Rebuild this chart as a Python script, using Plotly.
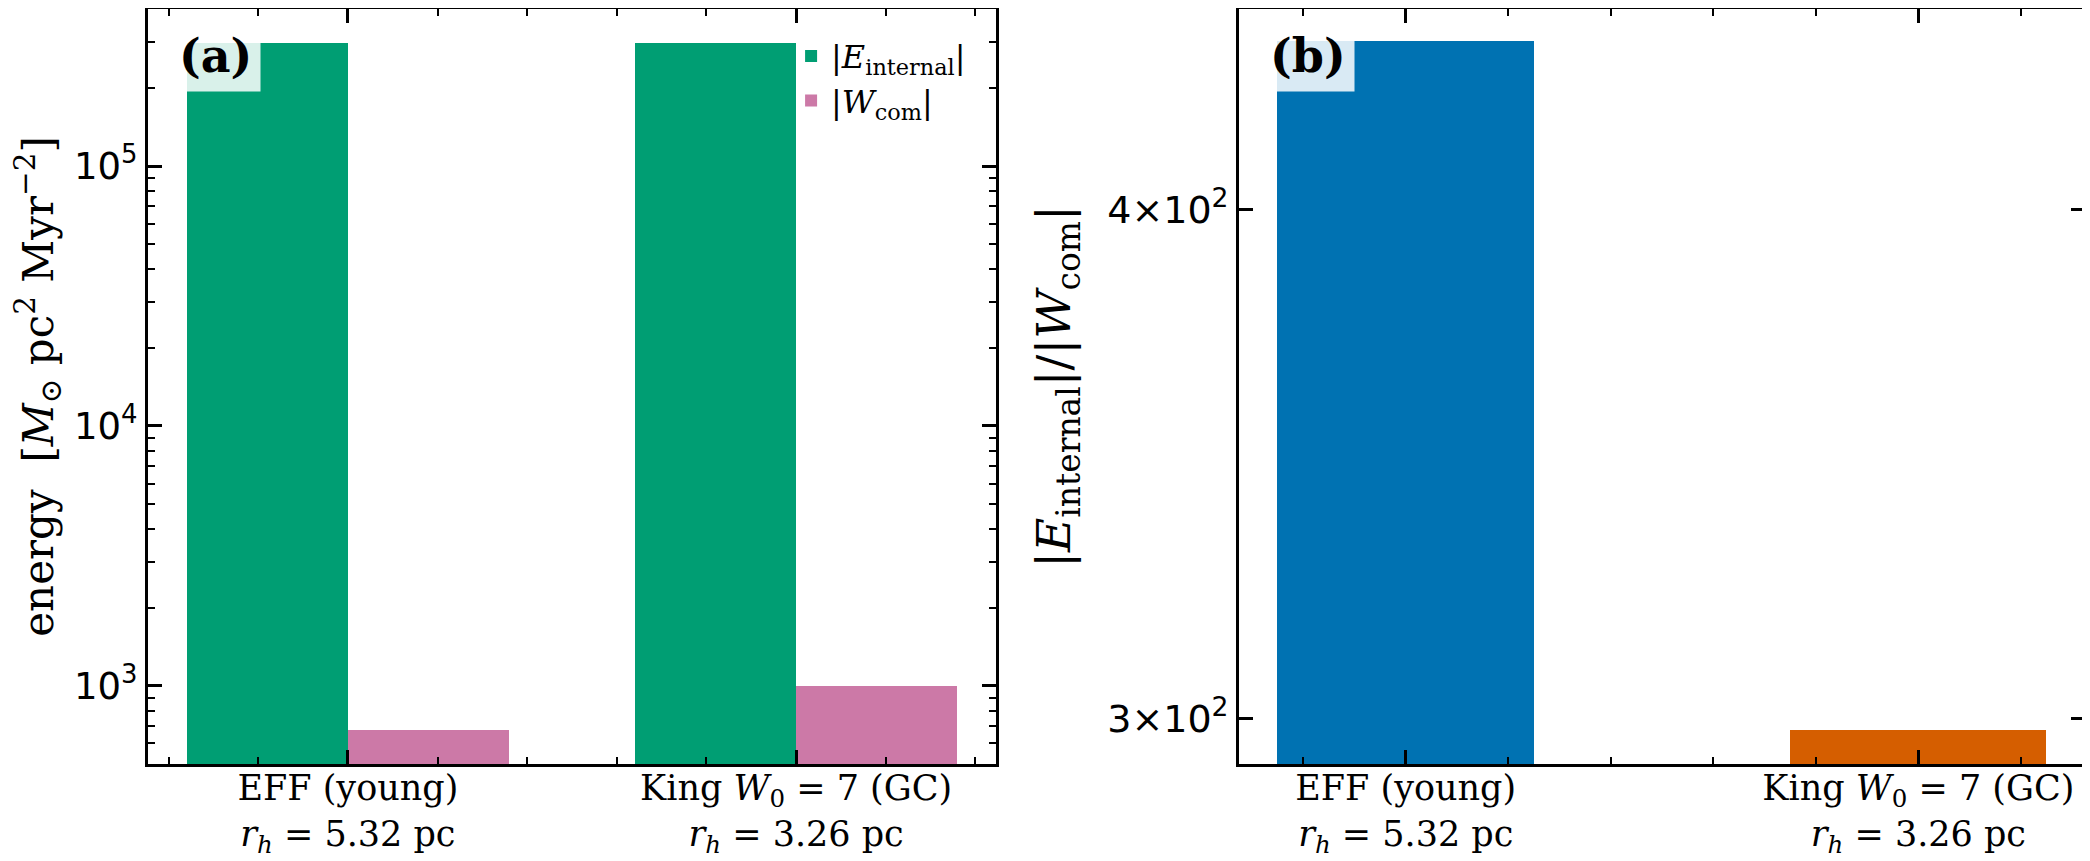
import math
import plotly.graph_objects as go

# values
models = ["EFF (young)", "King <i>W</i><sub>0</sub> = 7 (GC)"]
half_mass_radius = ["5.32", "3.26"]
e_internal = [2.97e5, 2.98e5]
w_com = [675, 1000]
ratio = [e / w for e, w in zip(e_internal, w_com)]
xpos = [0, 1]
energy_ticks = [1e3, 1e4, 1e5]
energy_ticktext = ["10<sup>3</sup>", "10<sup>4</sup>", "10<sup>5</sup>"]
ratio_ticks = [300, 400]
ratio_ticktext = ["3×10<sup>2</sup>", "4×10<sup>2</sup>"]

GREEN, PINK = "#009E73", "#CC79A7"
BLUE, ORANGE = "#0072B2", "#D55E00"
SERIF = "DejaVu Serif"
SANS = "DejaVu Sans"

ticktext = [f"{m}<br><i>r</i><sub><i>h</i></sub> = {r} pc" for m, r in zip(models, half_mass_radius)]

fig = go.Figure()
fig.add_trace(go.Bar(x=xpos, y=e_internal, width=0.36, offset=-0.36, marker=dict(color=GREEN, line_width=0),
                     name="|<i>E</i><sub>internal</sub>|", xaxis="x", yaxis="y"))
fig.add_trace(go.Bar(x=xpos, y=w_com, width=0.36, offset=0, marker=dict(color=PINK, line_width=0),
                     name="|<i>W</i><sub>com</sub>|", xaxis="x", yaxis="y"))
fig.add_trace(go.Bar(x=xpos, y=ratio, width=0.5, marker=dict(color=[BLUE, ORANGE], line_width=0),
                     showlegend=False, xaxis="x2", yaxis="y2"))

frame = dict(showline=True, linecolor="black", linewidth=3, mirror="allticks", ticks="inside",
             ticklen=14, tickwidth=2.5, tickcolor="black", showgrid=False, zeroline=False,
             automargin=False)
xminor = dict(tickmode="linear", tick0=0, dtick=0.2, ticks="inside", ticklen=7, tickwidth=2,
              tickcolor="black", showgrid=False)
log_minor = dict(dtick="D1", ticks="inside", ticklen=7, tickwidth=2, tickcolor="black", showgrid=False)

# the page body adds 8px around the figure, so the figure is a bit smaller than the window
fig.update_layout(
    width=2082, height=853,
    margin=dict(l=140, r=5, t=1, b=97),
    plot_bgcolor="white", paper_bgcolor="white",
    barmode="overlay", bargap=0,
    font=dict(family=SERIF, color="black"),
    xaxis=dict(frame, domain=[0, 0.4378], range=[-0.446, 1.446], tickmode="array", tickvals=xpos,
               ticktext=ticktext, tickfont=dict(family=SERIF, size=35), minor=xminor, anchor="y",
               ticklabelstandoff=-9),
    yaxis=dict(frame, type="log", range=[math.log10(500), math.log10(4.02e5)], tickmode="array",
               tickvals=energy_ticks, ticktext=energy_ticktext, tickfont=dict(family=SANS, size=37),
               minor=log_minor, anchor="x",
               title=dict(text="energy  [<i>M</i><sub>⊙</sub> pc<sup>2</sup> Myr<sup>−2</sup>]",
                          font=dict(family=SERIF, size=42), standoff=40)),
    xaxis2=dict(frame, domain=[0.5633, 1], range=[-0.325, 1.325], tickmode="array", tickvals=xpos,
                ticktext=ticktext, tickfont=dict(family=SERIF, size=35), minor=xminor, anchor="y2",
                ticklabelstandoff=-9),
    yaxis2=dict(frame, type="log", anchor="x2", range=[math.log10(292.4), math.log10(448)],
                tickmode="array", tickvals=ratio_ticks, ticktext=ratio_ticktext,
                tickfont=dict(family=SANS, size=38),
                title=dict(text="|<i>E</i><sub>internal</sub>|/|<i>W</i><sub>com</sub>|",
                           font=dict(family=SERIF, size=47), standoff=22)),
    legend=dict(x=0.332, y=0.974, xanchor="left", yanchor="top", bgcolor="rgba(0,0,0,0)",
                font=dict(family=SERIF, size=32), traceorder="normal"),
)

for ax, lab in [("", "(a)"), ("2", "(b)")]:
    fig.add_annotation(xref=f"x{ax} domain", yref=f"y{ax} domain", x=0.026, y=0.985,
                       xanchor="left", yanchor="top", showarrow=False,
                       text=f"<b>{lab}</b>", font=dict(family=SERIF, size=46, color="black"),
                       bgcolor="rgba(255,255,255,0.85)", borderpad=8)

fig.write_html("out.html")
